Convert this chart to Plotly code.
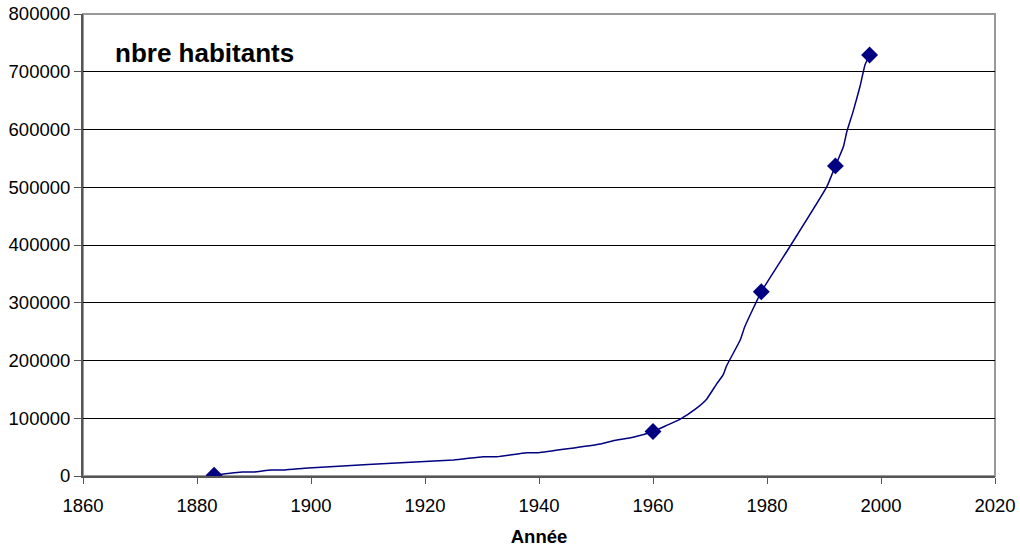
import plotly.graph_objects as go

# Population curve (yearly estimates)
years = [1883, 1888, 1890, 1893, 1895.4, 1899.5, 1910, 1925, 1930.2, 1932.6, 1937.8, 1939.9,
         1945, 1950.7, 1953, 1956.5, 1960, 1962.5, 1964.7, 1967.6, 1969.4, 1971.2, 1972.3,
         1972.9, 1975.3, 1976.1, 1979, 1984, 1990.5, 1992, 1993.4, 1994, 1995.1, 1996.3,
         1997.2, 1998]
habitants = [1500, 7000, 7000, 10400, 10400, 13900, 20000, 27700, 33400, 33400, 40400, 40400,
             47000, 55400, 61200, 67000, 77000, 88000, 98000, 117000, 133000, 160000, 175000,
             190500, 235500, 258500, 319000, 397000, 501000, 537000, 570000, 596000, 631000,
             674000, 712000, 729000]

# Census points shown with markers
census_years = [1883, 1960, 1979, 1992, 1998]
census_values = [1500, 77000, 319000, 537000, 729000]

navy = "#000080"
font = "Liberation Sans, Arial, sans-serif"

fig = go.Figure()
fig.add_trace(go.Scatter(x=years, y=habitants, mode="lines",
                         line=dict(color=navy, width=1.5, shape="spline", smoothing=0.4),
                         hoverinfo="skip", showlegend=False))
fig.add_trace(go.Scatter(x=census_years, y=census_values, mode="markers",
                         marker=dict(symbol="diamond", size=13, color=navy),
                         showlegend=False))

fig.update_layout(
    width=1020, height=548,
    margin=dict(l=83, r=25, t=14, b=72, autoexpand=False),
    paper_bgcolor="white", plot_bgcolor="white",
    font=dict(family=font, size=18.5, color="black"),
    xaxis=dict(range=[1860, 2020], dtick=20, tick0=1860, ticks="outside", ticklen=6,
               tickcolor="#555", showline=True, linecolor="#555", linewidth=2,
               showgrid=False, zeroline=False, automargin=False,
               ticklabelstandoff=6,
               title=dict(text="<b>Année</b>", font=dict(size=18.5))),
    yaxis=dict(range=[0, 800000], dtick=100000, ticks="outside", ticklen=7,
               tickcolor="#555", showline=True, linecolor="#555", linewidth=2,
               showgrid=True, gridcolor="black", gridwidth=1, zeroline=False,
               automargin=False, tickformat="d"),
    shapes=[dict(type="rect", xref="paper", yref="paper", x0=0, x1=1, y0=0, y1=1,
                 line=dict(color="#999", width=2), layer="below")],
    annotations=[dict(text="<b>nbre habitants</b>", xref="paper", yref="paper",
                      x=0.033, y=0.915, xanchor="left", yanchor="middle",
                      showarrow=False, font=dict(size=26, family=font))],
)

fig.write_html("out.html")
